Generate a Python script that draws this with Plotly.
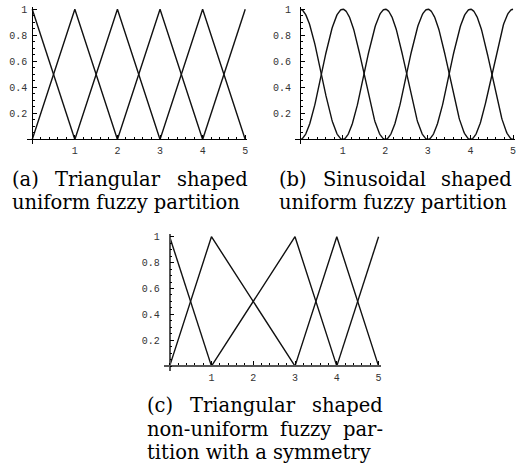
import numpy as np
import plotly.graph_objects as go

W, H = 520, 472

# Centres of the membership functions in each fuzzy partition
centers_a = [0, 1, 2, 3, 4, 5]
centers_b = [0, 1, 2, 3, 4, 5]
centers_c = [0, 1, 3, 4, 5]

# Axis ticks
x_tick_vals = [1, 2, 3, 4, 5]
x_tick_text = ["1", "2", "3", "4", "5"]
y_tick_vals = [0.2, 0.4, 0.6, 0.8, 1.0]
y_tick_text = ["0.2", "0.4", "0.6", "0.8", "1"]

# Sub-figure captions (justified lines are split into words)
caption_a = [["(a)", "Triangular", "shaped"], ["uniform fuzzy partition"]]
caption_b = [["(b)", "Sinusoidal", "shaped"], ["uniform fuzzy partition"]]
caption_c = [["(c)", "Triangular", "shaped"],
             ["non-uniform", "fuzzy", "par-"],
             ["tition with a symmetry"]]

X_RANGE = (-0.13, 5.05)
Y_RANGE = (-0.036, 1.018)


def neighbours(centers, i):
    left = centers[i - 1] if i > 0 else None
    right = centers[i + 1] if i < len(centers) - 1 else None
    return left, right


def triangular(centers, i):
    c = centers[i]
    left, right = neighbours(centers, i)
    xs, ys = [], []
    if left is not None:
        xs.append(left); ys.append(0.0)
    xs.append(c); ys.append(1.0)
    if right is not None:
        xs.append(right); ys.append(0.0)
    return xs, ys


def sinusoidal(centers, i):
    c = centers[i]
    left, right = neighbours(centers, i)
    xs, ys = [], []
    if left is not None:
        t = np.linspace(left, c, 80)
        xs.extend(t); ys.extend(0.5 * (1 - np.cos(np.pi * (t - left) / (c - left))))
    if right is not None:
        t = np.linspace(c, right, 80)
        xs.extend(t); ys.extend(0.5 * (1 + np.cos(np.pi * (t - c) / (right - c))))
    return xs, ys


# Pixel geometry of each panel: where x=0, x=5, y=0 and y=1 sit
panels = [
    dict(centers=centers_a, shape=triangular, x0=32.3, x5=245.7, y0=138.0, y1=7.3,
         ystand=3, axcolor="#000", axwidth=1),
    dict(centers=centers_b, shape=sinusoidal, x0=300.7, x5=514.0, y0=138.0, y1=7.3,
         ystand=7, axcolor="#000", axwidth=1),
    dict(centers=centers_c, shape=triangular, x0=170.0, x5=379.3, y0=365.7, y1=235.7,
         ystand=7, axcolor="#555", axwidth=1.6),
]

fig = go.Figure()
layout = dict(
    width=W, height=H, margin=dict(l=0, r=0, t=0, b=0),
    paper_bgcolor="white", plot_bgcolor="white", showlegend=False,
)

tick_font = dict(family="Liberation Mono, Courier New, monospace", size=10, color="#333")

for k, p in enumerate(panels, start=1):
    sfx = "" if k == 1 else str(k)
    ux = (p["x5"] - p["x0"]) / 5.0
    uy = p["y0"] - p["y1"]
    left_px = p["x0"] + X_RANGE[0] * ux
    right_px = p["x0"] + X_RANGE[1] * ux
    top_px = p["y0"] - Y_RANGE[1] * uy
    bot_px = p["y0"] - Y_RANGE[0] * uy

    for i in range(len(p["centers"])):
        xs, ys = p["shape"](p["centers"], i)
        fig.add_trace(go.Scatter(
            x=xs, y=ys, mode="lines",
            line=dict(color="#111", width=1.4),
            xaxis="x" + sfx, yaxis="y" + sfx, hoverinfo="skip",
        ))

    layout["xaxis" + sfx] = dict(
        domain=[left_px / W, right_px / W], range=list(X_RANGE),
        anchor="free", position=1 - p["y0"] / H,
        showgrid=False, zeroline=False,
        showline=True, linecolor=p["axcolor"], linewidth=p["axwidth"],
        tickmode="array", tickvals=x_tick_vals, ticktext=x_tick_text,
        ticks="inside", ticklen=4, tickwidth=1, tickcolor="#000",
        ticklabelstandoff=2, tickfont=tick_font,
        minor=dict(ticks="inside", ticklen=2, tickwidth=1, tickcolor="#000",
                   tickmode="linear", tick0=0, dtick=0.2, showgrid=False),
    )
    layout["yaxis" + sfx] = dict(
        domain=[1 - bot_px / H, 1 - top_px / H], range=list(Y_RANGE),
        anchor="free", position=p["x0"] / W,
        showgrid=False, zeroline=False,
        showline=True, linecolor=p["axcolor"], linewidth=p["axwidth"],
        tickmode="array", tickvals=y_tick_vals, ticktext=y_tick_text,
        ticks="inside", ticklen=4, tickwidth=1, tickcolor="#000",
        ticklabelstandoff=p["ystand"], tickfont=tick_font,
        minor=dict(ticks="inside", ticklen=2, tickwidth=1, tickcolor="#000",
                   tickmode="linear", tick0=0, dtick=0.05, showgrid=False),
    )

# Caption layout: left/right edges, baselines, and centres of middle words
cap_font = dict(family="DejaVu Serif, serif", size=19.5, color="#000")
LINE_H = 23.4
cap_blocks = [
    (caption_a, 10, 250, 185.0, [108]),
    (caption_b, 278, 515, 185.0, [375]),
    (caption_c, 145, 386, 412.3, [243, 306]),
]

annotations = []


def put(text, x_px, baseline, anchor):
    annotations.append(dict(
        text=text, x=x_px / W, y=1 - (baseline - 6.7) / H,
        xref="paper", yref="paper", xanchor=anchor, yanchor="middle",
        showarrow=False, font=cap_font,
    ))


for lines, x_left, x_right, base0, mids in cap_blocks:
    mid_iter = iter(mids)
    for j, words in enumerate(lines):
        base = base0 + j * LINE_H
        if len(words) == 1:
            put(words[0], x_left, base, "left")
        else:
            put(words[0], x_left, base, "left")
            for w in words[1:-1]:
                put(w, next(mid_iter), base, "center")
            put(words[-1], x_right, base, "right")

layout["annotations"] = annotations
fig.update_layout(**layout)
fig.write_html("out.html")
